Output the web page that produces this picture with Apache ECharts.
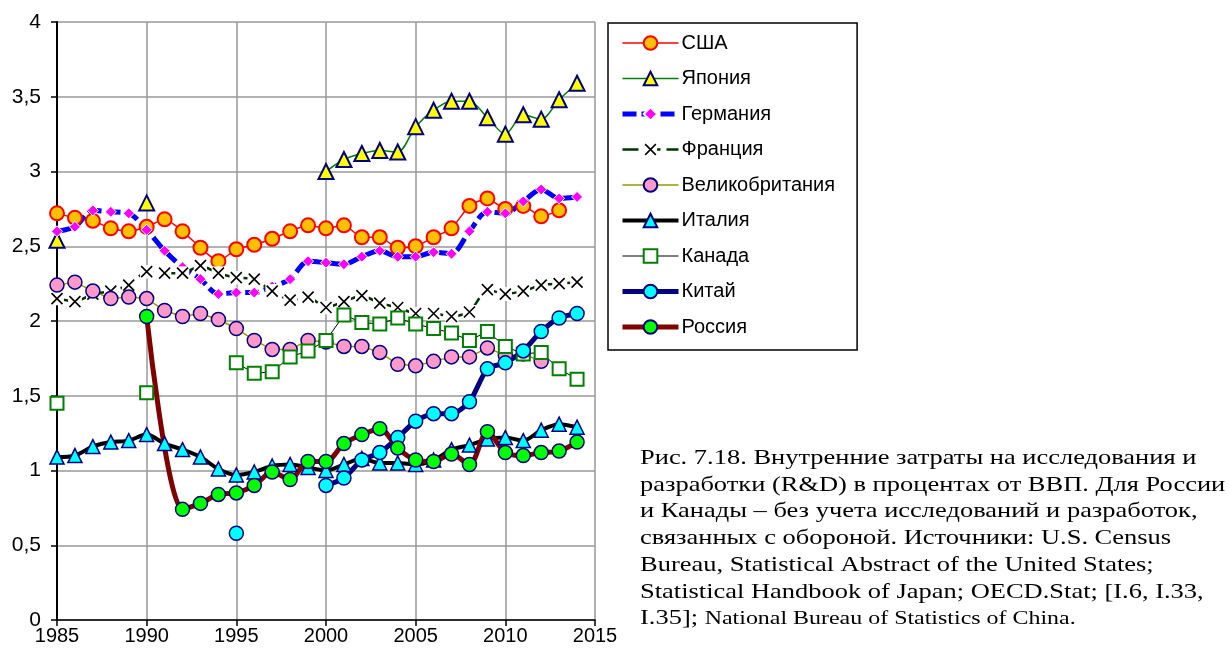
<!DOCTYPE html>
<html>
<head>
<meta charset="utf-8">
<script src="https://cdn.jsdelivr.net/npm/echarts@6/dist/echarts.min.js"></script>
<style>
  html, body { margin: 0; padding: 0; background: #fff; }
  #chart { width: 1231px; height: 656px; }
</style>
</head>
<body>
<div id="chart"></div>
<script>
// годы 1985..2014
const years = [];
for (let y = 1985; y <= 2014; y++) years.push(y);

const usa = [2.72, 2.69, 2.67, 2.62, 2.60, 2.63, 2.68, 2.60, 2.49, 2.40,
  2.48, 2.51, 2.55, 2.60, 2.64, 2.62, 2.64, 2.56, 2.56, 2.49,
  2.50, 2.56, 2.62, 2.77, 2.82, 2.75, 2.77, 2.70, 2.74, null]
const japan = [2.54, null, null, null, null, 2.79, null, null, null, null,
  null, null, null, null, null, 3.00, 3.08, 3.12, 3.14, 3.13,
  3.30, 3.41, 3.47, 3.47, 3.36, 3.25, 3.38, 3.35, 3.48, 3.59]
const germany = [2.60, 2.63, 2.74, 2.73, 2.72, 2.61, 2.47, 2.36, 2.28, 2.18,
  2.19, 2.19, 2.23, 2.28, 2.40, 2.39, 2.38, 2.43, 2.47, 2.43,
  2.43, 2.46, 2.45, 2.60, 2.73, 2.72, 2.80, 2.88, 2.82, 2.83]
const france = [2.15, 2.13, 2.18, 2.20, 2.24, 2.33, 2.32, 2.32, 2.37, 2.32,
  2.29, 2.28, 2.20, 2.14, 2.16, 2.09, 2.13, 2.17, 2.12, 2.09,
  2.05, 2.05, 2.03, 2.06, 2.21, 2.18, 2.20, 2.24, 2.25, 2.26]
const uk = [2.24, 2.26, 2.20, 2.15, 2.16, 2.15, 2.07, 2.03, 2.05, 2.01,
  1.95, 1.87, 1.81, 1.81, 1.87, 1.86, 1.83, 1.83, 1.79, 1.71,
  1.70, 1.73, 1.76, 1.76, 1.82, 1.77, 1.78, 1.73, null, null]
const italy = [1.09, 1.10, 1.16, 1.19, 1.20, 1.24, 1.18, 1.14, 1.09, 1.01,
  0.97, 0.99, 1.03, 1.04, 1.02, 1.00, 1.04, 1.08, 1.05, 1.05,
  1.04, 1.07, 1.14, 1.17, 1.21, 1.22, 1.20, 1.27, 1.31, 1.29]
const canada = [1.45, null, null, null, null, 1.52, null, null, null, null,
  1.72, 1.65, 1.66, 1.76, 1.80, 1.87, 2.04, 1.99, 1.98, 2.02,
  1.98, 1.95, 1.92, 1.87, 1.93, 1.83, 1.78, 1.79, 1.68, 1.61]
const china = [null, null, null, null, null, null, null, null, null, null,
  0.58, null, null, null, null, 0.90, 0.95, 1.07, 1.12, 1.22,
  1.33, 1.38, 1.38, 1.46, 1.68, 1.72, 1.80, 1.93, 2.02, 2.05]
const russia = [null, null, null, null, null, 2.03, null, 0.74, 0.78, 0.84,
  0.85, 0.90, 0.99, 0.94, 1.06, 1.06, 1.18, 1.24, 1.28, 1.15,
  1.07, 1.06, 1.11, 1.04, 1.26, 1.12, 1.10, 1.12, 1.13, 1.19]

const captionLines = [
  'Рис. 7.18. Внутренние затраты на исследования и',
  'разработки (R&D) в процентах от ВВП. Для России',
  'и Канады – без учета исследований и разработок,',
  'связанных с обороной. Источники: U.S. Census',
  'Bureau, Statistical Abstract of the United States;',
  'Statistical Handbook of Japan; OECD.Stat; [I.6, I.33,',
  '{a|I.35]; }{b|National Bureau of Statistics of China.}'
]

const pairs = arr => years.map((y, i) => [y, arr[i]])

const xMark = 'image://data:image/svg+xml;utf8,' + encodeURIComponent(
  "<svg xmlns='http://www.w3.org/2000/svg' width='14' height='14'>" +
  "<rect width='14' height='14' fill='white'/>" +
  "<path d='M1.5 1.5L12.5 12.5M12.5 1.5L1.5 12.5' stroke='black' stroke-width='1.6'/></svg>")

const sans = 'Arial, "Liberation Sans", sans-serif'
const serif = '"Times New Roman", "Liberation Serif", serif'

const chart = echarts.init(document.getElementById('chart'))

const option = {
  backgroundColor: '#fff',
  animation: false,
  grid: { left: 57, top: 22, right: 636, bottom: 36 },
  xAxis: {
    type: 'value',
    min: 1985,
    max: 2015,
    interval: 5,
    axisLine: { lineStyle: { color: '#000', width: 1.5 } },
    axisTick: { length: 6, lineStyle: { color: '#000', width: 1.5 } },
    axisLabel: { color: '#000', fontSize: 20, fontFamily: sans, margin: 6, formatter: v => String(v) },
    splitLine: { show: true, lineStyle: { color: '#999', width: 1.5 } }
  },
  yAxis: {
    type: 'value',
    min: 0,
    max: 4,
    interval: 0.5,
    axisLine: { show: true, lineStyle: { color: '#000', width: 2 } },
    axisTick: { show: true, length: 6, lineStyle: { color: '#000', width: 1.5 } },
    axisLabel: {
      color: '#000', fontSize: 21, fontFamily: sans, margin: 16,
      formatter: v => String(v).replace('.', ',')
    },
    splitLine: { lineStyle: { color: '#999', width: 1.5 } }
  },
  legend: {
    orient: 'vertical',
    left: 608,
    top: 23,
    padding: [10, 22, 13, 12],
    itemWidth: 56,
    itemHeight: 17,
    itemGap: 15.5,
    borderColor: '#000',
    borderWidth: 1.5,
    lineStyle: { width: 'inherit' },
    textStyle: { color: '#000', fontSize: 20, lineHeight: 17, fontFamily: sans, padding: [0, 0, 0, -2] }
  },
  series: [
    {
      name: 'США', type: 'line', data: pairs(usa), smooth: 0.2,
      symbol: 'circle', symbolSize: 14,
      lineStyle: { color: '#ff0000', width: 1.5 },
      itemStyle: { color: '#ffc000', borderColor: '#ff0000', borderWidth: 2 }
    },
    {
      name: 'Япония', type: 'line', data: pairs(japan), smooth: 0.3,
      symbol: 'triangle', symbolSize: 15,
      lineStyle: { color: '#008000', width: 1.5 },
      itemStyle: { color: '#ffff00', borderColor: '#000080', borderWidth: 2 }
    },
    {
      name: 'Германия', type: 'line', data: pairs(germany), smooth: 0.3,
      symbol: 'diamond', symbolSize: 11,
      lineStyle: { color: '#0000ff', width: 5, type: [14, 5] },
      itemStyle: { color: '#ff00ff', borderColor: '#fff', borderWidth: 1 }
    },
    {
      name: 'Франция', type: 'line', data: pairs(france), smooth: 0.2,
      symbol: xMark, symbolSize: 14,
      lineStyle: { color: '#003300', width: 2.5, type: [16, 6] },
      itemStyle: { color: '#003300' }
    },
    {
      name: 'Великобритания', type: 'line', data: pairs(uk), smooth: false,
      symbol: 'circle', symbolSize: 14,
      lineStyle: { color: '#999900', width: 1.5 },
      itemStyle: { color: '#ff99cc', borderColor: '#000080', borderWidth: 1.5 }
    },
    {
      name: 'Италия', type: 'line', data: pairs(italy), smooth: 0.3,
      symbol: 'triangle', symbolSize: 14,
      lineStyle: { color: '#000', width: 4 },
      itemStyle: { color: '#00ffff', borderColor: '#000080', borderWidth: 1.5 }
    },
    {
      name: 'Канада', type: 'line', data: pairs(canada), smooth: false,
      symbol: 'rect', symbolSize: 13,
      lineStyle: { color: '#000', width: 1 },
      itemStyle: { color: '#fff', borderColor: '#008000', borderWidth: 2 }
    },
    {
      name: 'Китай', type: 'line', data: pairs(china), smooth: 0.25,
      symbol: 'circle', symbolSize: 14,
      lineStyle: { color: '#000080', width: 5 },
      itemStyle: { color: '#00ffff', borderColor: '#000080', borderWidth: 1.5 }
    },
    {
      name: 'Россия', type: 'line', data: pairs(russia), smooth: 0.3, connectNulls: true,
      symbol: 'circle', symbolSize: 14,
      lineStyle: { color: '#800000', width: 5 },
      itemStyle: { color: '#00ff00', borderColor: '#000080', borderWidth: 1.5 }
    }
  ],
  graphic: captionLines.map((t, i) => ({
    type: 'text',
    x: 640,
    y: 448 + i * 26.7,
    scaleX: 1.26,
    style: {
      text: t,
      fill: '#000',
      font: '21px ' + serif,
      rich: {
        a: { fontSize: 21, fontFamily: serif, fill: '#000' },
        b: { fontSize: 19, fontFamily: serif, fill: '#000' }
      }
    }
  }))
}

chart.setOption(option)
</script>
</body>
</html>
